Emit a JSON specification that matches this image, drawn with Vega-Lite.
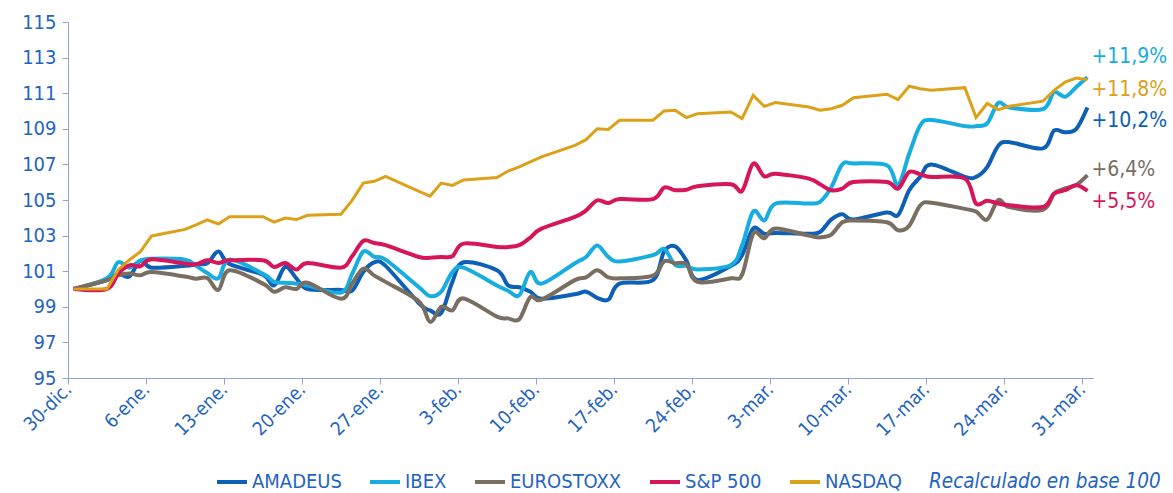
{
  "$schema": "https://vega.github.io/schema/vega-lite/v6.json",
  "autosize": "none",
  "width": 1025,
  "height": 356,
  "padding": {"left": 68, "top": 22, "right": 80, "bottom": 115},
  "background": "white",
  "config": {
    "view": {"stroke": null},
    "font": "DejaVu Sans Condensed",
    "axis": {
      "grid": false,
      "domainColor": "#8FA5D9",
      "tickColor": "#8FA5D9",
      "labelColor": "#1F64BF",
      "labelFont": "DejaVu Sans Condensed",
      "title": null
    },
    "legend": {
      "labelFont": "DejaVu Sans Condensed",
      "titleFont": "DejaVu Sans Condensed"
    }
  },
  "datasets": {
    "series": [
      {"s":"AMADEUS","d":"2016-12-30T12:00","v":100.0},
      {"s":"AMADEUS","d":"2017-01-02T12:00","v":100.5},
      {"s":"AMADEUS","d":"2017-01-03T12:00","v":100.87},
      {"s":"AMADEUS","d":"2017-01-04T12:00","v":100.7},
      {"s":"AMADEUS","d":"2017-01-05T12:00","v":101.6},
      {"s":"AMADEUS","d":"2017-01-06T12:00","v":101.2},
      {"s":"AMADEUS","d":"2017-01-09T12:00","v":101.3},
      {"s":"AMADEUS","d":"2017-01-10T12:00","v":101.4},
      {"s":"AMADEUS","d":"2017-01-11T12:00","v":101.45},
      {"s":"AMADEUS","d":"2017-01-12T12:00","v":102.1},
      {"s":"AMADEUS","d":"2017-01-13T12:00","v":101.4},
      {"s":"AMADEUS","d":"2017-01-16T12:00","v":100.8},
      {"s":"AMADEUS","d":"2017-01-17T12:00","v":100.2},
      {"s":"AMADEUS","d":"2017-01-18T12:00","v":101.25},
      {"s":"AMADEUS","d":"2017-01-19T12:00","v":100.6},
      {"s":"AMADEUS","d":"2017-01-20T12:00","v":100.0},
      {"s":"AMADEUS","d":"2017-01-23T12:00","v":99.95},
      {"s":"AMADEUS","d":"2017-01-24T12:00","v":99.9},
      {"s":"AMADEUS","d":"2017-01-25T12:00","v":100.95},
      {"s":"AMADEUS","d":"2017-01-26T12:00","v":101.5},
      {"s":"AMADEUS","d":"2017-01-27T12:00","v":101.3},
      {"s":"AMADEUS","d":"2017-01-30T12:00","v":99.2},
      {"s":"AMADEUS","d":"2017-01-31T12:00","v":98.8},
      {"s":"AMADEUS","d":"2017-02-01T12:00","v":98.65},
      {"s":"AMADEUS","d":"2017-02-02T12:00","v":100.4},
      {"s":"AMADEUS","d":"2017-02-03T12:00","v":101.5},
      {"s":"AMADEUS","d":"2017-02-06T12:00","v":101.05},
      {"s":"AMADEUS","d":"2017-02-07T12:00","v":100.2},
      {"s":"AMADEUS","d":"2017-02-08T12:00","v":100.1},
      {"s":"AMADEUS","d":"2017-02-09T12:00","v":99.85},
      {"s":"AMADEUS","d":"2017-02-10T12:00","v":99.45},
      {"s":"AMADEUS","d":"2017-02-13T12:00","v":99.7},
      {"s":"AMADEUS","d":"2017-02-14T12:00","v":99.85},
      {"s":"AMADEUS","d":"2017-02-15T12:00","v":99.5},
      {"s":"AMADEUS","d":"2017-02-16T12:00","v":99.4},
      {"s":"AMADEUS","d":"2017-02-17T12:00","v":100.3},
      {"s":"AMADEUS","d":"2017-02-20T12:00","v":100.5},
      {"s":"AMADEUS","d":"2017-02-21T12:00","v":102.1},
      {"s":"AMADEUS","d":"2017-02-22T12:00","v":102.4},
      {"s":"AMADEUS","d":"2017-02-23T12:00","v":101.6},
      {"s":"AMADEUS","d":"2017-02-24T12:00","v":100.5},
      {"s":"AMADEUS","d":"2017-02-27T12:00","v":101.3},
      {"s":"AMADEUS","d":"2017-02-28T12:00","v":101.9},
      {"s":"AMADEUS","d":"2017-03-01T12:00","v":103.4},
      {"s":"AMADEUS","d":"2017-03-02T12:00","v":103.1},
      {"s":"AMADEUS","d":"2017-03-03T12:00","v":103.15},
      {"s":"AMADEUS","d":"2017-03-06T12:00","v":103.1},
      {"s":"AMADEUS","d":"2017-03-07T12:00","v":103.2},
      {"s":"AMADEUS","d":"2017-03-08T12:00","v":103.9},
      {"s":"AMADEUS","d":"2017-03-09T12:00","v":104.2},
      {"s":"AMADEUS","d":"2017-03-10T12:00","v":103.9},
      {"s":"AMADEUS","d":"2017-03-13T12:00","v":104.3},
      {"s":"AMADEUS","d":"2017-03-14T12:00","v":104.15},
      {"s":"AMADEUS","d":"2017-03-15T12:00","v":105.55},
      {"s":"AMADEUS","d":"2017-03-16T12:00","v":106.3},
      {"s":"AMADEUS","d":"2017-03-17T12:00","v":107.0},
      {"s":"AMADEUS","d":"2017-03-20T12:00","v":106.3},
      {"s":"AMADEUS","d":"2017-03-21T12:00","v":106.3},
      {"s":"AMADEUS","d":"2017-03-22T12:00","v":106.85},
      {"s":"AMADEUS","d":"2017-03-23T12:00","v":108.05},
      {"s":"AMADEUS","d":"2017-03-24T12:00","v":108.25},
      {"s":"AMADEUS","d":"2017-03-27T12:00","v":107.9},
      {"s":"AMADEUS","d":"2017-03-28T12:00","v":108.9},
      {"s":"AMADEUS","d":"2017-03-29T12:00","v":108.8},
      {"s":"AMADEUS","d":"2017-03-30T12:00","v":109.0},
      {"s":"AMADEUS","d":"2017-03-31T12:00","v":110.2},

      {"s":"IBEX","d":"2016-12-30T12:00","v":100.0},
      {"s":"IBEX","d":"2017-01-02T12:00","v":100.6},
      {"s":"IBEX","d":"2017-01-03T12:00","v":101.5},
      {"s":"IBEX","d":"2017-01-04T12:00","v":101.2},
      {"s":"IBEX","d":"2017-01-05T12:00","v":101.6},
      {"s":"IBEX","d":"2017-01-06T12:00","v":101.7},
      {"s":"IBEX","d":"2017-01-09T12:00","v":101.65},
      {"s":"IBEX","d":"2017-01-10T12:00","v":101.3},
      {"s":"IBEX","d":"2017-01-11T12:00","v":100.9},
      {"s":"IBEX","d":"2017-01-12T12:00","v":100.6},
      {"s":"IBEX","d":"2017-01-13T12:00","v":101.65},
      {"s":"IBEX","d":"2017-01-16T12:00","v":100.85},
      {"s":"IBEX","d":"2017-01-17T12:00","v":100.4},
      {"s":"IBEX","d":"2017-01-18T12:00","v":100.35},
      {"s":"IBEX","d":"2017-01-19T12:00","v":100.3},
      {"s":"IBEX","d":"2017-01-20T12:00","v":100.2},
      {"s":"IBEX","d":"2017-01-23T12:00","v":99.8},
      {"s":"IBEX","d":"2017-01-24T12:00","v":100.85},
      {"s":"IBEX","d":"2017-01-25T12:00","v":102.1},
      {"s":"IBEX","d":"2017-01-26T12:00","v":101.8},
      {"s":"IBEX","d":"2017-01-27T12:00","v":101.65},
      {"s":"IBEX","d":"2017-01-30T12:00","v":100.1},
      {"s":"IBEX","d":"2017-01-31T12:00","v":99.6},
      {"s":"IBEX","d":"2017-02-01T12:00","v":99.85},
      {"s":"IBEX","d":"2017-02-02T12:00","v":100.95},
      {"s":"IBEX","d":"2017-02-03T12:00","v":101.2},
      {"s":"IBEX","d":"2017-02-06T12:00","v":100.2},
      {"s":"IBEX","d":"2017-02-07T12:00","v":99.9},
      {"s":"IBEX","d":"2017-02-08T12:00","v":99.65},
      {"s":"IBEX","d":"2017-02-09T12:00","v":100.95},
      {"s":"IBEX","d":"2017-02-10T12:00","v":100.3},
      {"s":"IBEX","d":"2017-02-13T12:00","v":101.45},
      {"s":"IBEX","d":"2017-02-14T12:00","v":101.8},
      {"s":"IBEX","d":"2017-02-15T12:00","v":102.45},
      {"s":"IBEX","d":"2017-02-16T12:00","v":101.8},
      {"s":"IBEX","d":"2017-02-17T12:00","v":101.55},
      {"s":"IBEX","d":"2017-02-20T12:00","v":101.9},
      {"s":"IBEX","d":"2017-02-21T12:00","v":102.25},
      {"s":"IBEX","d":"2017-02-22T12:00","v":101.35},
      {"s":"IBEX","d":"2017-02-23T12:00","v":101.3},
      {"s":"IBEX","d":"2017-02-24T12:00","v":101.1},
      {"s":"IBEX","d":"2017-02-27T12:00","v":101.35},
      {"s":"IBEX","d":"2017-02-28T12:00","v":102.45},
      {"s":"IBEX","d":"2017-03-01T12:00","v":104.35},
      {"s":"IBEX","d":"2017-03-02T12:00","v":103.85},
      {"s":"IBEX","d":"2017-03-03T12:00","v":104.8},
      {"s":"IBEX","d":"2017-03-06T12:00","v":104.8},
      {"s":"IBEX","d":"2017-03-07T12:00","v":104.9},
      {"s":"IBEX","d":"2017-03-08T12:00","v":105.7},
      {"s":"IBEX","d":"2017-03-09T12:00","v":107.0},
      {"s":"IBEX","d":"2017-03-10T12:00","v":107.05},
      {"s":"IBEX","d":"2017-03-13T12:00","v":106.95},
      {"s":"IBEX","d":"2017-03-14T12:00","v":105.85},
      {"s":"IBEX","d":"2017-03-15T12:00","v":107.6},
      {"s":"IBEX","d":"2017-03-16T12:00","v":109.2},
      {"s":"IBEX","d":"2017-03-17T12:00","v":109.5},
      {"s":"IBEX","d":"2017-03-20T12:00","v":109.15},
      {"s":"IBEX","d":"2017-03-21T12:00","v":109.15},
      {"s":"IBEX","d":"2017-03-22T12:00","v":109.3},
      {"s":"IBEX","d":"2017-03-23T12:00","v":110.45},
      {"s":"IBEX","d":"2017-03-24T12:00","v":110.2},
      {"s":"IBEX","d":"2017-03-27T12:00","v":110.1},
      {"s":"IBEX","d":"2017-03-28T12:00","v":111.05},
      {"s":"IBEX","d":"2017-03-29T12:00","v":110.8},
      {"s":"IBEX","d":"2017-03-30T12:00","v":111.35},
      {"s":"IBEX","d":"2017-03-31T12:00","v":111.9},

      {"s":"EUROSTOXX","d":"2016-12-30T12:00","v":100.0},
      {"s":"EUROSTOXX","d":"2017-01-02T12:00","v":100.5},
      {"s":"EUROSTOXX","d":"2017-01-03T12:00","v":100.77},
      {"s":"EUROSTOXX","d":"2017-01-04T12:00","v":100.87},
      {"s":"EUROSTOXX","d":"2017-01-05T12:00","v":100.77},
      {"s":"EUROSTOXX","d":"2017-01-06T12:00","v":100.95},
      {"s":"EUROSTOXX","d":"2017-01-09T12:00","v":100.7},
      {"s":"EUROSTOXX","d":"2017-01-10T12:00","v":100.58},
      {"s":"EUROSTOXX","d":"2017-01-11T12:00","v":100.62},
      {"s":"EUROSTOXX","d":"2017-01-12T12:00","v":99.95},
      {"s":"EUROSTOXX","d":"2017-01-13T12:00","v":101.05},
      {"s":"EUROSTOXX","d":"2017-01-16T12:00","v":100.3},
      {"s":"EUROSTOXX","d":"2017-01-17T12:00","v":99.85},
      {"s":"EUROSTOXX","d":"2017-01-18T12:00","v":100.1},
      {"s":"EUROSTOXX","d":"2017-01-19T12:00","v":100.0},
      {"s":"EUROSTOXX","d":"2017-01-20T12:00","v":100.35},
      {"s":"EUROSTOXX","d":"2017-01-23T12:00","v":99.45},
      {"s":"EUROSTOXX","d":"2017-01-24T12:00","v":100.3},
      {"s":"EUROSTOXX","d":"2017-01-25T12:00","v":101.15},
      {"s":"EUROSTOXX","d":"2017-01-26T12:00","v":100.75},
      {"s":"EUROSTOXX","d":"2017-01-27T12:00","v":100.4},
      {"s":"EUROSTOXX","d":"2017-01-30T12:00","v":99.3},
      {"s":"EUROSTOXX","d":"2017-01-31T12:00","v":98.15},
      {"s":"EUROSTOXX","d":"2017-02-01T12:00","v":99.0},
      {"s":"EUROSTOXX","d":"2017-02-02T12:00","v":98.8},
      {"s":"EUROSTOXX","d":"2017-02-03T12:00","v":99.47},
      {"s":"EUROSTOXX","d":"2017-02-06T12:00","v":98.45},
      {"s":"EUROSTOXX","d":"2017-02-07T12:00","v":98.35},
      {"s":"EUROSTOXX","d":"2017-02-08T12:00","v":98.3},
      {"s":"EUROSTOXX","d":"2017-02-09T12:00","v":99.55},
      {"s":"EUROSTOXX","d":"2017-02-10T12:00","v":99.4},
      {"s":"EUROSTOXX","d":"2017-02-13T12:00","v":100.5},
      {"s":"EUROSTOXX","d":"2017-02-14T12:00","v":100.65},
      {"s":"EUROSTOXX","d":"2017-02-15T12:00","v":101.05},
      {"s":"EUROSTOXX","d":"2017-02-16T12:00","v":100.65},
      {"s":"EUROSTOXX","d":"2017-02-17T12:00","v":100.6},
      {"s":"EUROSTOXX","d":"2017-02-20T12:00","v":100.75},
      {"s":"EUROSTOXX","d":"2017-02-21T12:00","v":101.55},
      {"s":"EUROSTOXX","d":"2017-02-22T12:00","v":101.45},
      {"s":"EUROSTOXX","d":"2017-02-23T12:00","v":101.4},
      {"s":"EUROSTOXX","d":"2017-02-24T12:00","v":100.4},
      {"s":"EUROSTOXX","d":"2017-02-27T12:00","v":100.6},
      {"s":"EUROSTOXX","d":"2017-02-28T12:00","v":100.8},
      {"s":"EUROSTOXX","d":"2017-03-01T12:00","v":103.1},
      {"s":"EUROSTOXX","d":"2017-03-02T12:00","v":102.85},
      {"s":"EUROSTOXX","d":"2017-03-03T12:00","v":103.4},
      {"s":"EUROSTOXX","d":"2017-03-06T12:00","v":103.0},
      {"s":"EUROSTOXX","d":"2017-03-07T12:00","v":102.9},
      {"s":"EUROSTOXX","d":"2017-03-08T12:00","v":103.05},
      {"s":"EUROSTOXX","d":"2017-03-09T12:00","v":103.75},
      {"s":"EUROSTOXX","d":"2017-03-10T12:00","v":103.85},
      {"s":"EUROSTOXX","d":"2017-03-13T12:00","v":103.75},
      {"s":"EUROSTOXX","d":"2017-03-14T12:00","v":103.3},
      {"s":"EUROSTOXX","d":"2017-03-15T12:00","v":103.55},
      {"s":"EUROSTOXX","d":"2017-03-16T12:00","v":104.7},
      {"s":"EUROSTOXX","d":"2017-03-17T12:00","v":104.85},
      {"s":"EUROSTOXX","d":"2017-03-20T12:00","v":104.5},
      {"s":"EUROSTOXX","d":"2017-03-21T12:00","v":104.35},
      {"s":"EUROSTOXX","d":"2017-03-22T12:00","v":103.9},
      {"s":"EUROSTOXX","d":"2017-03-23T12:00","v":105.0},
      {"s":"EUROSTOXX","d":"2017-03-24T12:00","v":104.6},
      {"s":"EUROSTOXX","d":"2017-03-27T12:00","v":104.45},
      {"s":"EUROSTOXX","d":"2017-03-28T12:00","v":105.35},
      {"s":"EUROSTOXX","d":"2017-03-29T12:00","v":105.65},
      {"s":"EUROSTOXX","d":"2017-03-30T12:00","v":105.85},
      {"s":"EUROSTOXX","d":"2017-03-31T12:00","v":106.4},

      {"s":"S&P 500","d":"2016-12-30T12:00","v":100.0},
      {"s":"S&P 500","d":"2017-01-02T12:00","v":100.0},
      {"s":"S&P 500","d":"2017-01-03T12:00","v":100.87},
      {"s":"S&P 500","d":"2017-01-04T12:00","v":101.33},
      {"s":"S&P 500","d":"2017-01-05T12:00","v":101.28},
      {"s":"S&P 500","d":"2017-01-06T12:00","v":101.67},
      {"s":"S&P 500","d":"2017-01-09T12:00","v":101.43},
      {"s":"S&P 500","d":"2017-01-10T12:00","v":101.39},
      {"s":"S&P 500","d":"2017-01-11T12:00","v":101.61},
      {"s":"S&P 500","d":"2017-01-12T12:00","v":101.46},
      {"s":"S&P 500","d":"2017-01-13T12:00","v":101.61},
      {"s":"S&P 500","d":"2017-01-16T12:00","v":101.61},
      {"s":"S&P 500","d":"2017-01-17T12:00","v":101.24},
      {"s":"S&P 500","d":"2017-01-18T12:00","v":101.46},
      {"s":"S&P 500","d":"2017-01-19T12:00","v":101.09},
      {"s":"S&P 500","d":"2017-01-20T12:00","v":101.46},
      {"s":"S&P 500","d":"2017-01-23T12:00","v":101.2},
      {"s":"S&P 500","d":"2017-01-24T12:00","v":101.84},
      {"s":"S&P 500","d":"2017-01-25T12:00","v":102.7},
      {"s":"S&P 500","d":"2017-01-26T12:00","v":102.58},
      {"s":"S&P 500","d":"2017-01-27T12:00","v":102.46},
      {"s":"S&P 500","d":"2017-01-30T12:00","v":101.8},
      {"s":"S&P 500","d":"2017-01-31T12:00","v":101.76},
      {"s":"S&P 500","d":"2017-02-01T12:00","v":101.8},
      {"s":"S&P 500","d":"2017-02-02T12:00","v":101.84},
      {"s":"S&P 500","d":"2017-02-03T12:00","v":102.55},
      {"s":"S&P 500","d":"2017-02-06T12:00","v":102.36},
      {"s":"S&P 500","d":"2017-02-07T12:00","v":102.36},
      {"s":"S&P 500","d":"2017-02-08T12:00","v":102.46},
      {"s":"S&P 500","d":"2017-02-09T12:00","v":102.89},
      {"s":"S&P 500","d":"2017-02-10T12:00","v":103.39},
      {"s":"S&P 500","d":"2017-02-13T12:00","v":104.05},
      {"s":"S&P 500","d":"2017-02-14T12:00","v":104.42},
      {"s":"S&P 500","d":"2017-02-15T12:00","v":104.98},
      {"s":"S&P 500","d":"2017-02-16T12:00","v":104.83},
      {"s":"S&P 500","d":"2017-02-17T12:00","v":105.05},
      {"s":"S&P 500","d":"2017-02-20T12:00","v":105.05},
      {"s":"S&P 500","d":"2017-02-21T12:00","v":105.7},
      {"s":"S&P 500","d":"2017-02-22T12:00","v":105.55},
      {"s":"S&P 500","d":"2017-02-23T12:00","v":105.58},
      {"s":"S&P 500","d":"2017-02-24T12:00","v":105.77},
      {"s":"S&P 500","d":"2017-02-27T12:00","v":105.88},
      {"s":"S&P 500","d":"2017-02-28T12:00","v":105.51},
      {"s":"S&P 500","d":"2017-03-01T12:00","v":107.04},
      {"s":"S&P 500","d":"2017-03-02T12:00","v":106.33},
      {"s":"S&P 500","d":"2017-03-03T12:00","v":106.48},
      {"s":"S&P 500","d":"2017-03-06T12:00","v":106.2},
      {"s":"S&P 500","d":"2017-03-07T12:00","v":105.88},
      {"s":"S&P 500","d":"2017-03-08T12:00","v":105.55},
      {"s":"S&P 500","d":"2017-03-09T12:00","v":105.64},
      {"s":"S&P 500","d":"2017-03-10T12:00","v":106.01},
      {"s":"S&P 500","d":"2017-03-13T12:00","v":106.01},
      {"s":"S&P 500","d":"2017-03-14T12:00","v":105.64},
      {"s":"S&P 500","d":"2017-03-15T12:00","v":106.57},
      {"s":"S&P 500","d":"2017-03-16T12:00","v":106.44},
      {"s":"S&P 500","d":"2017-03-17T12:00","v":106.29},
      {"s":"S&P 500","d":"2017-03-20T12:00","v":106.2},
      {"s":"S&P 500","d":"2017-03-21T12:00","v":104.8},
      {"s":"S&P 500","d":"2017-03-22T12:00","v":104.96},
      {"s":"S&P 500","d":"2017-03-23T12:00","v":104.8},
      {"s":"S&P 500","d":"2017-03-24T12:00","v":104.71},
      {"s":"S&P 500","d":"2017-03-27T12:00","v":104.61},
      {"s":"S&P 500","d":"2017-03-28T12:00","v":105.36},
      {"s":"S&P 500","d":"2017-03-29T12:00","v":105.55},
      {"s":"S&P 500","d":"2017-03-30T12:00","v":105.83},
      {"s":"S&P 500","d":"2017-03-31T12:00","v":105.51},

      {"s":"NASDAQ","d":"2016-12-30T12:00","v":100.0},
      {"s":"NASDAQ","d":"2017-01-02T12:00","v":100.0},
      {"s":"NASDAQ","d":"2017-01-03T12:00","v":101.07},
      {"s":"NASDAQ","d":"2017-01-04T12:00","v":101.63},
      {"s":"NASDAQ","d":"2017-01-05T12:00","v":102.1},
      {"s":"NASDAQ","d":"2017-01-06T12:00","v":102.98},
      {"s":"NASDAQ","d":"2017-01-09T12:00","v":103.35},
      {"s":"NASDAQ","d":"2017-01-10T12:00","v":103.6},
      {"s":"NASDAQ","d":"2017-01-11T12:00","v":103.88},
      {"s":"NASDAQ","d":"2017-01-12T12:00","v":103.65},
      {"s":"NASDAQ","d":"2017-01-13T12:00","v":104.06},
      {"s":"NASDAQ","d":"2017-01-16T12:00","v":104.06},
      {"s":"NASDAQ","d":"2017-01-17T12:00","v":103.76},
      {"s":"NASDAQ","d":"2017-01-18T12:00","v":103.99},
      {"s":"NASDAQ","d":"2017-01-19T12:00","v":103.9},
      {"s":"NASDAQ","d":"2017-01-20T12:00","v":104.14},
      {"s":"NASDAQ","d":"2017-01-23T12:00","v":104.2},
      {"s":"NASDAQ","d":"2017-01-24T12:00","v":104.98},
      {"s":"NASDAQ","d":"2017-01-25T12:00","v":105.95},
      {"s":"NASDAQ","d":"2017-01-26T12:00","v":106.05},
      {"s":"NASDAQ","d":"2017-01-27T12:00","v":106.33},
      {"s":"NASDAQ","d":"2017-01-30T12:00","v":105.49},
      {"s":"NASDAQ","d":"2017-01-31T12:00","v":105.22},
      {"s":"NASDAQ","d":"2017-02-01T12:00","v":105.95},
      {"s":"NASDAQ","d":"2017-02-02T12:00","v":105.82},
      {"s":"NASDAQ","d":"2017-02-03T12:00","v":106.13},
      {"s":"NASDAQ","d":"2017-02-06T12:00","v":106.26},
      {"s":"NASDAQ","d":"2017-02-07T12:00","v":106.63},
      {"s":"NASDAQ","d":"2017-02-08T12:00","v":106.86},
      {"s":"NASDAQ","d":"2017-02-09T12:00","v":107.14},
      {"s":"NASDAQ","d":"2017-02-10T12:00","v":107.42},
      {"s":"NASDAQ","d":"2017-02-13T12:00","v":108.07},
      {"s":"NASDAQ","d":"2017-02-14T12:00","v":108.39},
      {"s":"NASDAQ","d":"2017-02-15T12:00","v":109.0},
      {"s":"NASDAQ","d":"2017-02-16T12:00","v":108.96},
      {"s":"NASDAQ","d":"2017-02-17T12:00","v":109.48},
      {"s":"NASDAQ","d":"2017-02-20T12:00","v":109.48},
      {"s":"NASDAQ","d":"2017-02-21T12:00","v":110.0},
      {"s":"NASDAQ","d":"2017-02-22T12:00","v":110.04},
      {"s":"NASDAQ","d":"2017-02-23T12:00","v":109.63},
      {"s":"NASDAQ","d":"2017-02-24T12:00","v":109.85},
      {"s":"NASDAQ","d":"2017-02-27T12:00","v":109.94},
      {"s":"NASDAQ","d":"2017-02-28T12:00","v":109.57},
      {"s":"NASDAQ","d":"2017-03-01T12:00","v":110.88},
      {"s":"NASDAQ","d":"2017-03-02T12:00","v":110.26},
      {"s":"NASDAQ","d":"2017-03-03T12:00","v":110.47},
      {"s":"NASDAQ","d":"2017-03-06T12:00","v":110.22},
      {"s":"NASDAQ","d":"2017-03-07T12:00","v":110.04},
      {"s":"NASDAQ","d":"2017-03-08T12:00","v":110.13},
      {"s":"NASDAQ","d":"2017-03-09T12:00","v":110.32},
      {"s":"NASDAQ","d":"2017-03-10T12:00","v":110.75},
      {"s":"NASDAQ","d":"2017-03-13T12:00","v":110.94},
      {"s":"NASDAQ","d":"2017-03-14T12:00","v":110.64},
      {"s":"NASDAQ","d":"2017-03-15T12:00","v":111.39},
      {"s":"NASDAQ","d":"2017-03-16T12:00","v":111.25},
      {"s":"NASDAQ","d":"2017-03-17T12:00","v":111.16},
      {"s":"NASDAQ","d":"2017-03-20T12:00","v":111.31},
      {"s":"NASDAQ","d":"2017-03-21T12:00","v":109.63},
      {"s":"NASDAQ","d":"2017-03-22T12:00","v":110.42},
      {"s":"NASDAQ","d":"2017-03-23T12:00","v":110.08},
      {"s":"NASDAQ","d":"2017-03-24T12:00","v":110.27},
      {"s":"NASDAQ","d":"2017-03-27T12:00","v":110.55},
      {"s":"NASDAQ","d":"2017-03-28T12:00","v":111.16},
      {"s":"NASDAQ","d":"2017-03-29T12:00","v":111.63},
      {"s":"NASDAQ","d":"2017-03-30T12:00","v":111.85},
      {"s":"NASDAQ","d":"2017-03-31T12:00","v":111.76}
    ],
    "labels": [
      {"s":"IBEX","d":"2017-03-31T12:00","v":113.05,"t":"+11,9%"},
      {"s":"NASDAQ","d":"2017-03-31T12:00","v":111.2,"t":"+11,8%"},
      {"s":"AMADEUS","d":"2017-03-31T12:00","v":109.45,"t":"+10,2%"},
      {"s":"EUROSTOXX","d":"2017-03-31T12:00","v":106.67,"t":"+6,4%"},
      {"s":"S&P 500","d":"2017-03-31T12:00","v":104.87,"t":"+5,5%"}
    ]
  },
  "encoding": {
    "x": {
      "field": "d",
      "type": "temporal",
      "scale": {"domain": [{"year": 2016, "month": 12, "date": 30}, {"year": 2017, "month": 4, "date": 1}]},
      "axis": {
        "values": [
          {"year": 2016, "month": 12, "date": 30},
          {"year": 2017, "month": 1, "date": 6},
          {"year": 2017, "month": 1, "date": 13},
          {"year": 2017, "month": 1, "date": 20},
          {"year": 2017, "month": 1, "date": 27},
          {"year": 2017, "month": 2, "date": 3},
          {"year": 2017, "month": 2, "date": 10},
          {"year": 2017, "month": 2, "date": 17},
          {"year": 2017, "month": 2, "date": 24},
          {"year": 2017, "month": 3, "date": 3},
          {"year": 2017, "month": 3, "date": 10},
          {"year": 2017, "month": 3, "date": 17},
          {"year": 2017, "month": 3, "date": 24},
          {"year": 2017, "month": 3, "date": 31}
        ],
        "labelExpr": "date(datum.value) + '-' + ['ene.','feb.','mar.','abr.','may.','jun.','jul.','ago.','sep.','oct.','nov.','dic.'][month(datum.value)]",
        "labelAngle": -45,
        "labelAlign": "right",
        "labelBaseline": "middle",
        "labelPadding": 2,
        "labelFontSize": 19,
        "tickSize": 6,
        "labelFlush": false,
        "labelOverlap": false
      }
    },
    "y": {
      "field": "v",
      "type": "quantitative",
      "scale": {"domain": [95, 115], "nice": false, "zero": false},
      "axis": {
        "values": [95, 97, 99, 101, 103, 105, 107, 109, 111, 113, 115],
        "tickSize": 6,
        "labelPadding": 6,
        "labelFontSize": 20
      }
    },
    "color": {
      "field": "s",
      "type": "nominal",
      "scale": {
        "domain": ["AMADEUS", "IBEX", "EUROSTOXX", "S&P 500", "NASDAQ"],
        "range": ["#0E5FB6", "#17ADE1", "#7A6E61", "#D6155B", "#DBA118"]
      }
    }
  },
  "layer": [
    {
      "data": {"name": "series"},
      "transform": [{"filter": "datum.s !== 'NASDAQ'"}],
      "mark": {"type": "line", "interpolate": "cardinal", "strokeWidth": 4},
      "encoding": {
        "color": {
          "field": "s",
          "type": "nominal",
          "legend": {
            "orient": "none",
            "legendX": 147,
            "legendY": 443,
            "direction": "horizontal",
            "columns": 5,
            "title": "Recalculado en base 100",
            "titleOrient": "right",
            "titleAnchor": "end",
            "titleBaseline": "bottom",
            "titleFontStyle": "italic",
            "titleFontWeight": "normal",
            "titleFontSize": 20.5,
            "titleColor": "#1F64BF",
            "titlePadding": 27,
            "titleLimit": 400,
            "labelFontSize": 20,
            "labelColor": "#1F64BF",
            "labelOffset": 3,
            "labelLimit": 300,
            "symbolType": "stroke",
            "symbolSize": 900,
            "symbolStrokeWidth": 4,
            "columnPadding": 20
          }
        }
      }
    },
    {
      "data": {"name": "series"},
      "transform": [{"filter": "datum.s === 'NASDAQ'"}],
      "mark": {"type": "line", "interpolate": "linear", "strokeWidth": 3}
    },
    {
      "data": {"name": "labels"},
      "mark": {"type": "text", "align": "left", "baseline": "middle", "dx": 4, "fontSize": 21, "font": "DejaVu Sans Condensed"},
      "encoding": {
        "text": {"field": "t"},
        "color": {"field": "s", "type": "nominal", "legend": null}
      }
    }
  ]
}
